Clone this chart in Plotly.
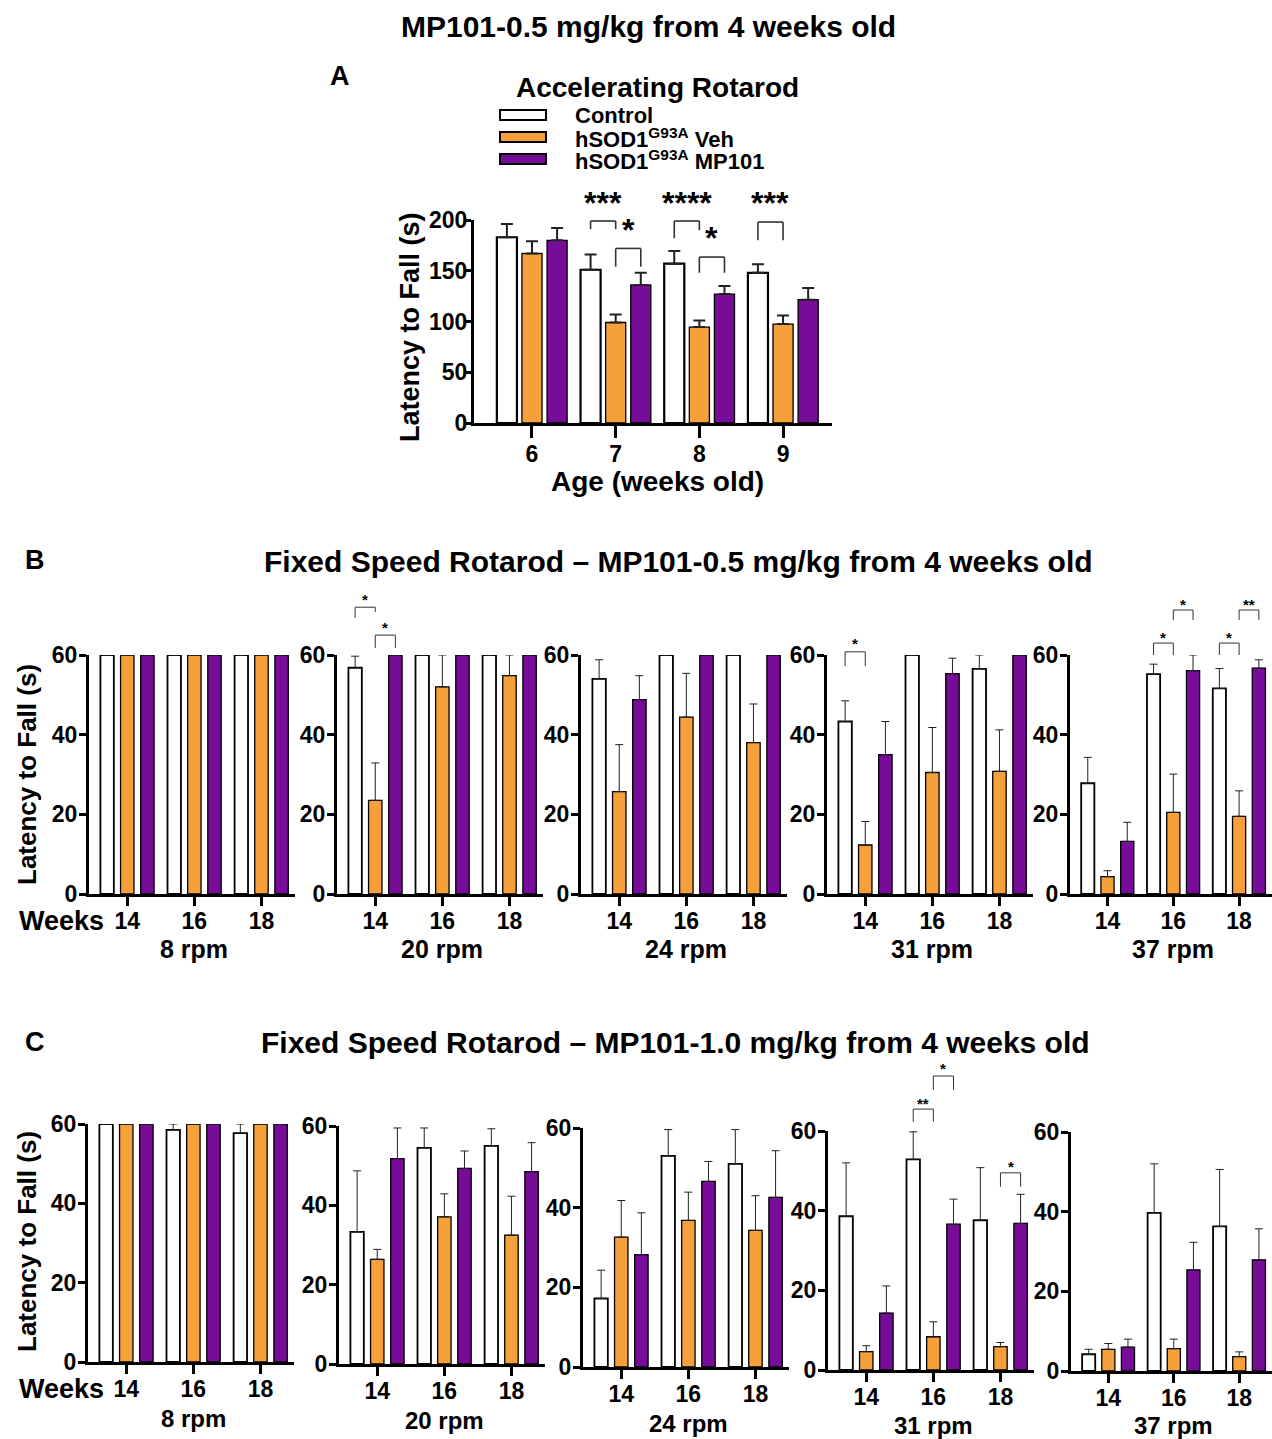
import plotly.graph_objects as go

W, H = 1272, 1439
FONT = "Liberation Sans"

# ---------------- data ----------------
A_weeks = ["6", "7", "8", "9"]
A_control = [183, 151, 157, 148]
A_control_sem = [13, 15, 12.5, 8.5]
A_veh = [167, 99, 94.5, 97.5]
A_veh_sem = [12, 8, 6.5, 8.5]
A_mp = [180, 136, 127, 121.5]
A_mp_sem = [12, 12, 8, 11.5]

fixed_weeks = ["14", "16", "18"]
speeds = ["8 rpm", "20 rpm", "24 rpm", "31 rpm", "37 rpm"]

# Panel B: MP101-0.5 mg/kg (rows = speeds, columns = weeks 14/16/18)
B_control = [[60, 60, 60], [56.8, 60, 60], [54, 60, 60], [43.3, 60, 56.5], [27.8, 55.2, 51.6]]
B_control_sem = [[0, 0, 0], [2.9, 0, 0], [4.8, 0, 0], [5.2, 0, 3.5], [6.5, 2.5, 5.0]]
B_veh = [[60, 60, 60], [23.5, 52, 54.8], [25.7, 44.4, 38], [12.3, 30.5, 30.8], [4.35, 20.5, 19.5]]
B_veh_sem = [[0, 0, 0], [9.4, 8, 5.2], [11.8, 11, 9.7], [5.9, 11.3, 10.4], [1.5, 9.6, 6.4]]
B_mp = [[60, 60, 60], [60, 60, 60], [48.8, 60, 60], [35, 55.3, 60], [13.2, 56.1, 56.7]]
B_mp_sem = [[0, 0, 0], [0, 0, 0], [6, 0, 0], [8.3, 3.9, 0], [4.8, 3.9, 2.1]]

# Panel C: MP101-1.0 mg/kg
C_control = [[60, 58.5, 57.7], [33.3, 54.5, 55], [17.2, 53, 51], [38.6, 52.9, 37.6], [4.2, 39.7, 36.3]]
C_control_sem = [[0, 1.5, 2.3], [15.4, 5, 4.3], [7.1, 6.6, 8.6], [13.4, 6.9, 13.2], [1.25, 12.3, 14.3]]
C_veh = [[60, 60, 60], [26.4, 37.1, 32.5], [32.6, 36.8, 34.3], [4.6, 8.35, 5.85], [5.45, 5.6, 3.6]]
C_veh_sem = [[0, 0, 0], [2.5, 5.8, 9.8], [9.2, 7.1, 8.7], [1.5, 3.75, 1.05], [1.45, 2.4, 1.2]]
C_mp = [[60, 60, 60], [51.8, 49.3, 48.5], [28.2, 46.6, 42.6], [14.3, 36.6, 36.8], [6.0, 25.4, 27.9]]
C_mp_sem = [[0, 0, 0], [7.7, 4.4, 7.3], [10.5, 5, 11.7], [6.8, 6.3, 7.3], [2, 6.9, 7.8]]

# significance: (axis number, from bar, to bar, top y, left drop y, right drop y, label, label y)
# bar position = category index + group offset (-0.3 control, 0 veh, +0.3 MP101)
A_sig = [
    (1, 0.7, 1.0, 199, 191, 191, "***", 221),
    (1, 1.0, 1.3, 172, 154, 154, "*", 194),
    (1, 1.7, 2.0, 199, 182, 190, "****", 221),
    (1, 2.0, 2.3, 163.5, 148, 148, "*", 186),
    (1, 2.7, 3.0, 198, 180, 180, "***", 221),
]
B_sig = [
    (3, -0.3, 0.0, 72, 69.3, 70.8, "*", 75),
    (3, 0.0, 0.3, 65, 61.8, 61.8, "*", 68),
    (5, -0.3, 0.0, 60.8, 57.2, 57.2, "*", 63.8),
    (6, 0.7, 1.0, 63, 60, 60, "*", 65.5),
    (6, 1.0, 1.3, 71.3, 68.8, 68.8, "*", 73.8),
    (6, 1.7, 2.0, 63, 60, 60, "*", 65.5),
    (6, 2.0, 2.3, 71.3, 68.8, 68.8, "**", 73.8),
]
C_sig = [
    (10, 0.7, 1.0, 65.5, 62.3, 62.3, "**", 68),
    (10, 1.0, 1.3, 73.8, 70.3, 70.3, "*", 76.6),
    (10, 2.0, 2.3, 49.5, 46, 46, "*", 52),
]

# ---------------- style ----------------
CTRL = "#FFFFFF"
VEH = "#F6A03C"
MP = "#770C98"
TICK_FS = 23

fig = go.Figure()
layout = dict(
    template="none",
    width=W, height=H, margin=dict(l=0, r=0, t=0, b=0, autoexpand=False),
    paper_bgcolor="white", plot_bgcolor="rgba(0,0,0,0)",
    barmode="overlay", showlegend=False,
    font=dict(family=FONT, color="black"),
)
shapes = []
annotations = []


def fx(p):
    return p / W


def fy(p):
    return 1 - p / H


def nz(vals):
    return [v if v > 0 else None for v in vals]


def add_bars(n, cats, series, width, ctrl_lw, err_thick, err_w):
    ax = "" if n == 1 else str(n)
    offsets = [-0.3, 0.0, 0.3]
    fills = [CTRL, VEH, MP]
    for (vals, sem), off, fill in zip(series, offsets, fills):
        fig.add_trace(go.Bar(
            x=cats, y=vals, xaxis="x" + ax, yaxis="y" + ax,
            width=width, offset=off - width / 2,
            marker=dict(color=fill, line=dict(color="black", width=ctrl_lw if fill == CTRL else 1.3)),
            error_y=dict(type="data", symmetric=False, array=nz(sem), arrayminus=[0] * len(vals),
                         color="#222222", thickness=err_thick, width=err_w),
            cliponaxis=False, hoverinfo="skip",
        ))


def set_axes(n, xdom, ydom, xrange, yrange, ytickvals, xticklen, xstand, ystand):
    ax = "" if n == 1 else str(n)
    tickfont = dict(family=FONT, size=TICK_FS, color="black", weight="bold")
    layout["xaxis" + ax] = dict(
        domain=[fx(xdom[0]), fx(xdom[1])], range=xrange, type="category",
        anchor="y" + ax, showline=True, linewidth=3, linecolor="black",
        ticks="outside", ticklen=xticklen, tickwidth=3, tickcolor="black", automargin=False,
        ticklabelstandoff=xstand,
        tickfont=tickfont, showgrid=False, zeroline=False, fixedrange=True,
    )
    layout["yaxis" + ax] = dict(
        domain=[fy(ydom[1]), fy(ydom[0])], range=yrange, tickvals=ytickvals,
        anchor="x" + ax, showline=True, linewidth=3, linecolor="black",
        ticks="outside", ticklen=7, tickwidth=2.5, tickcolor="black", automargin=False,
        ticklabelstandoff=ystand,
        tickfont=tickfont, showgrid=False, zeroline=False, fixedrange=True,
    )


def add_sig(sigs, ymax, lw, fs, yshift):
    for (n, x0, x1, top, d0, d1, lab, ly) in sigs:
        ax = "" if n == 1 else str(n)
        xr, yr = "x" + ax, "y" + ax + " domain"
        for (a, b, c, d) in [(x0, d0, x0, top), (x0, top, x1, top), (x1, top, x1, d1)]:
            shapes.append(dict(type="line", xref=xr, yref=yr, x0=a, y0=b / ymax, x1=c, y1=d / ymax,
                               line=dict(color="#333333", width=lw)))
        annotations.append(dict(xref=xr, yref=yr, x=(x0 + x1) / 2, y=ly / ymax, text=lab,
                                showarrow=False, yanchor="middle", yshift=yshift,
                                font=dict(family=FONT, size=fs, color="black", weight="bold")))


def text(x, y, s, size, xanchor="center", textangle=0, xref="paper"):
    annotations.append(dict(xref=xref, yref="paper", x=x if xref != "paper" else fx(x), y=fy(y),
                            text=s, showarrow=False, xanchor=xanchor, yanchor="middle",
                            textangle=textangle,
                            font=dict(family=FONT, size=size, color="black", weight="bold")))


# ---------------- Panel A ----------------
add_bars(1, A_weeks, [(A_control, A_control_sem), (A_veh, A_veh_sem), (A_mp, A_mp_sem)],
         0.24, 2.2, 2, 6)
set_axes(1, (474, 832), (220, 423), [-0.693, 3.585], [0, 200], [0, 50, 100, 150, 200],
         12, -4, -8)
add_sig(A_sig, 200, 1.6, 32, -4)

text(648, 27, "MP101-0.5 mg/kg from 4 weeks old", 30)
text(340, 76, "A", 27)
text(657, 87, "Accelerating Rotarod", 28)
legend_items = [("Control", CTRL), ("hSOD1<sup>G93A</sup> Veh", VEH), ("hSOD1<sup>G93A</sup> MP101", MP)]
for i, (lab, col) in enumerate(legend_items):
    yc = 115 + i * 22
    shapes.append(dict(type="rect", xref="paper", yref="paper", x0=fx(500), x1=fx(546),
                       y0=fy(yc + 5), y1=fy(yc - 5), fillcolor=col,
                       line=dict(color="black", width=2)))
    text(573, yc + 1, lab, 22, xanchor="left")
text(410, 327, "Latency to Fall (s)", 27, textangle=-90)
text(657, 481, "Age (weeks old)", 28)

# ---------------- Panels B & C ----------------
B_cols = [(89, 295), (337, 543), (581, 787), (827, 1033), (1070, 1272)]
C_cols = [(88, 294), (339, 545), (583, 789), (828, 1034), (1071, 1272)]
C_rows = [(1124, 1362), (1126, 1364), (1128, 1367), (1131, 1370), (1132, 1371)]
rng = [-0.57, 2.5]

for i in range(5):
    nb = 2 + i
    add_bars(nb, fixed_weeks,
             [(B_control[i], B_control_sem[i]), (B_veh[i], B_veh_sem[i]), (B_mp[i], B_mp_sem[i])],
             0.2, 1.8, 1, 4)
    set_axes(nb, B_cols[i], (655, 894), rng, [0, 60], [0, 20, 40, 60], 9, -5, -3)
    text(1, 949, speeds[i], 25, xref="x" + str(nb))

    nc = 7 + i
    add_bars(nc, fixed_weeks,
             [(C_control[i], C_control_sem[i]), (C_veh[i], C_veh_sem[i]), (C_mp[i], C_mp_sem[i])],
             0.2, 1.8, 1, 4)
    set_axes(nc, C_cols[i], C_rows[i], rng, [0, 60], [0, 20, 40, 60], 9, -5, -3)
    text(1, min(C_rows[i][1] + 56, 1425), speeds[i], 24, xref="x" + str(nc))

add_sig(B_sig, 60, 1, 15, -4)
add_sig(C_sig, 60, 1, 15, -4)

text(35, 560, "B", 27)
text(678, 561, "Fixed Speed Rotarod \u2013 MP101-0.5 mg/kg from 4 weeks old", 30)
text(27, 775, "Latency to Fall (s)", 26, textangle=-90)
text(17, 921, "Weeks", 27, xanchor="left")

text(35, 1042, "C", 27)
text(675, 1042, "Fixed Speed Rotarod \u2013 MP101-1.0 mg/kg from 4 weeks old", 30)
text(27, 1242, "Latency to Fall (s)", 26, textangle=-90)
text(17, 1389, "Weeks", 27, xanchor="left")

layout["shapes"] = shapes
layout["annotations"] = annotations
fig.update_layout(**layout)
fig.write_html("out.html", config={"displayModeBar": False},
               post_script="document.body.style.margin='0px';")
